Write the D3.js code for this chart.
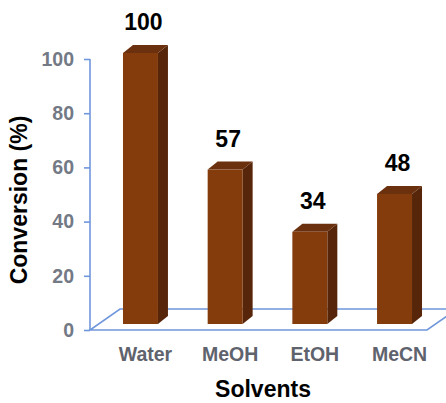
<!DOCTYPE html>
<html>
<head>
<meta charset="utf-8">
<script src="https://cdn.jsdelivr.net/npm/d3@7/dist/d3.min.js"></script>
<style>
  html, body { margin: 0; padding: 0; background: #fff; }
  svg { display: block; font-family: Arial, "Liberation Sans", sans-serif; }
</style>
</head>
<body>
<svg id="chart" width="446" height="403"></svg>
<script>
// Solvent screening: conversion per solvent
const solvents = ["Water", "MeOH", "EtOH", "MeCN"];
const conversion = [100, 57, 34, 48];
const yTicks = [0, 20, 40, 60, 80, 100];

const svg = d3.select("#chart");

// vertical scale of the value axis
const y = d3.scaleLinear().domain([0, 100]).range([330, 59]);

// horizontal placement of the bars (front faces)
const x = d3.scaleBand().domain(solvents).range([98, 437])
  .paddingInner(0.587).paddingOuter(0.295);

// 3-D depth of the floor and of each bar
const floor = { left: 90, right: 427, dx: 30, dy: -21 };
const bar = { dx: 10, dy: -8, lift: 6 };

const axisColor = "#7097dc";

// floor parallelogram
const f0 = y(0);
svg.append("path")
  .attr("d", `M${floor.left},${f0} L${floor.right},${f0} L${floor.right + floor.dx},${f0 + floor.dy} L${floor.left + floor.dx},${f0 + floor.dy} Z`)
  .attr("fill", "none")
  .attr("stroke", axisColor)
  .attr("stroke-width", 1.6);

// value axis
const yAxis = d3.axisLeft(y).tickValues(yTicks).tickSize(6).tickPadding(10);
const gy = svg.append("g").attr("transform", `translate(${floor.left},0)`).call(yAxis);
gy.select(".domain").attr("stroke", axisColor).attr("stroke-width", 1.6)
  .attr("d", `M0,${y(100)}V${y(0)}`);
gy.selectAll(".tick line").attr("stroke", axisColor).attr("stroke-width", 1.6);
gy.selectAll(".tick text")
  .attr("fill", "#737985")
  .attr("font-size", 19.5)
  .attr("font-weight", "bold")
  .attr("font-family", "Arial, 'Liberation Sans', sans-serif");

// bars with front, side and top faces
const bars = svg.append("g").selectAll("g").data(solvents).join("g");
bars.each(function (s, i) {
  const g = d3.select(this);
  const x0 = x(s), w = x.bandwidth();
  const yb = y(0) - bar.lift, yt = y(conversion[i]) - bar.lift;
  g.append("path")
    .attr("d", `M${x0 + w},${yt} L${x0 + w + bar.dx},${yt + bar.dy} L${x0 + w + bar.dx},${yb + bar.dy} L${x0 + w},${yb} Z`)
    .attr("fill", "#57260a");
  g.append("path")
    .attr("d", `M${x0},${yt} L${x0 + bar.dx},${yt + bar.dy} L${x0 + w + bar.dx},${yt + bar.dy} L${x0 + w},${yt} Z`)
    .attr("fill", "#6b310f");
  g.append("rect")
    .attr("x", x0).attr("y", yt).attr("width", w).attr("height", yb - yt)
    .attr("fill", "#843c0c");
  // value label
  g.append("text")
    .attr("x", x0 + w / 2 + 3)
    .attr("y", yt - 23)
    .attr("text-anchor", "middle")
    .attr("font-size", 23)
    .attr("font-weight", "bold")
    .attr("fill", "#000")
    .text(conversion[i]);
  // category label
  g.append("text")
    .attr("x", x0 + w / 2 + bar.dx / 2)
    .attr("y", 361)
    .attr("text-anchor", "middle")
    .attr("font-size", 19.5)
    .attr("font-weight", "bold")
    .attr("fill", "#5f636d")
    .text(s);
});

// axis titles
svg.append("text")
  .attr("x", 263).attr("y", 397)
  .attr("text-anchor", "middle")
  .attr("font-size", 23)
  .attr("font-weight", "bold")
  .attr("fill", "#000")
  .text("Solvents");

svg.append("text")
  .attr("transform", "translate(27,200) rotate(-90)")
  .attr("text-anchor", "middle")
  .attr("font-size", 23)
  .attr("font-weight", "bold")
  .attr("fill", "#000")
  .text("Conversion (%)");
</script>
</body>
</html>
